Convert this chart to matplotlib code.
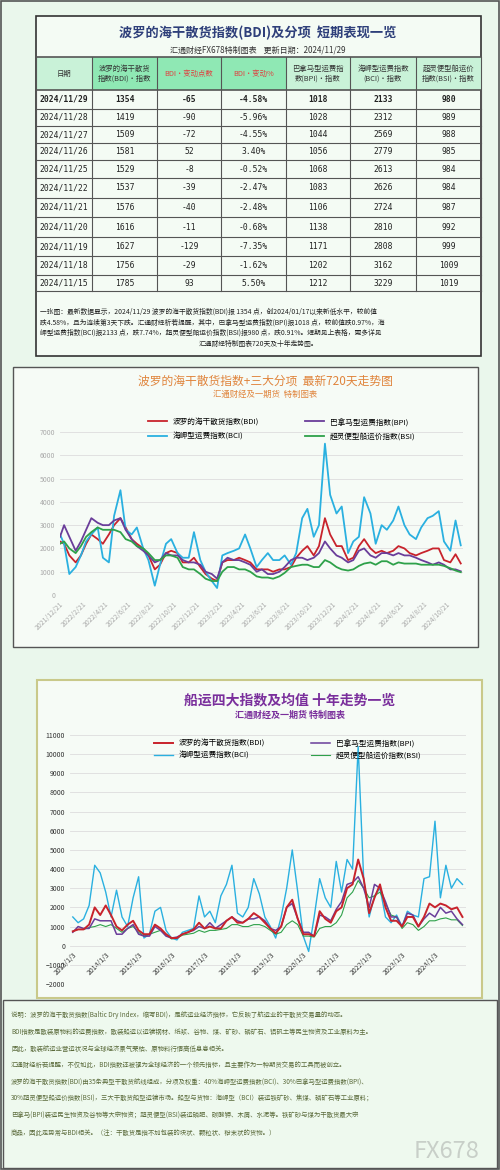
import matplotlib
matplotlib.use("Agg")
import matplotlib.pyplot as plt
import pandas as pd
from matplotlib.patches import Rectangle

plt.rcParams['font.family'] = ['Noto Sans CJK SC', 'DejaVu Sans']

# ---------------- table data ----------------
tbl_dates = ["2024/11/29", "2024/11/28", "2024/11/27", "2024/11/26", "2024/11/25", "2024/11/22",
             "2024/11/21", "2024/11/20", "2024/11/19", "2024/11/18", "2024/11/15"]
tbl_bdi = [1354, 1419, 1509, 1581, 1529, 1537, 1576, 1616, 1627, 1756, 1785]
tbl_chg = [-65, -90, -72, 52, -8, -39, -40, -11, -129, -29, 93]
tbl_pct = ["-4.58%", "-5.96%", "-4.55%", "3.40%", "-0.52%", "-2.47%", "-2.48%", "-0.68%", "-7.35%", "-1.62%", "5.50%"]
tbl_bpi = [1018, 1028, 1044, 1056, 1068, 1083, 1106, 1138, 1171, 1202, 1212]
tbl_bci = [2133, 2312, 2569, 2779, 2613, 2626, 2724, 2810, 2808, 3162, 3229]
tbl_bsi = [980, 989, 988, 985, 984, 984, 987, 992, 999, 1009, 1019]
tbl_headers = ["日期", "波罗的海干散货\n指数(BDI)·指数", "BDI·变动点数", "BDI·变动%",
               "巴拿马型运费指\n数(BPI)·指数", "海岬型运费指数\n(BCI)·指数", "超灵便型船运价\n指数(BSI)·指数"]

# ---------------- 720-day chart data (semi-monthly) ----------------
c1_bci = [2600,
          2200, 900, 1200, 1700, 2300, 2600, 2900, 1600, 1400, 3400, 4500, 2800,
          2600, 2900, 2000, 1500, 400, 1300, 2200, 2400, 1800, 1600, 1600, 2700,
          1500, 1000, 600, 300, 1700, 1800, 1900, 2000, 2600, 2000, 1200, 1500,
          1800, 1500, 1500, 1700, 1300, 1800, 3300, 3700, 2500, 3000, 6500, 4300,
          3500, 3800, 1800, 2300, 2500, 4200, 3500, 2200, 3000, 2800, 3200, 3800,
          3000, 2600, 2400, 2900, 3300, 3400, 3600, 2300, 1900, 3200,
          2133]
c1_bdi = [2300,
          2200, 1700, 1400, 1700, 2200, 2600, 2400, 2200, 2600, 3000, 3300, 2900,
          2400, 2200, 2000, 1700, 1100, 1300, 1800, 1900, 1800, 1400, 1400, 1600,
          1200, 900, 700, 600, 1400, 1500, 1500, 1600, 1500, 1400, 1100, 1100,
          1100, 1000, 1100, 1100, 1200, 1600, 1900, 2100, 1700, 2100, 3300, 2600,
          2100, 2100, 1500, 1600, 2100, 2400, 2000, 1800, 1900, 1800, 1900, 2100,
          2000, 1800, 1700, 1800, 1900, 2000, 2000, 1500, 1400, 1750,
          1354]
c1_bpi = [2500,
          3000, 2500, 1900, 2300, 2800, 3300, 3100, 3000, 3000, 3200, 3300, 2800,
          2400, 2100, 1900, 1700, 1400, 1500, 1800, 1700, 1700, 1500, 1400, 1400,
          1300, 1000, 900, 700, 1400, 1600, 1500, 1500, 1400, 1300, 1000, 1100,
          900, 900, 1000, 1200, 1500, 1600, 1600, 1500, 1600, 1800, 2300, 2000,
          1700, 1600, 1400, 1500, 1900, 2000, 1700, 1600, 1800, 1800, 1700, 1800,
          1700, 1700, 1600, 1500, 1400, 1300, 1400, 1300, 1100, 1100,
          1018]
c1_bsi = [2200,
          2300, 2000, 1800, 2100, 2500, 2700, 2900, 2800, 2800, 2800, 2700, 2400,
          2300, 2100, 2000, 1800, 1500, 1500, 1700, 1700, 1600, 1200, 1100, 1100,
          900, 700, 600, 600, 1000, 1200, 1200, 1100, 1100, 1000, 800, 750,
          750, 700, 800, 950, 1200, 1250, 1300, 1300, 1200, 1200, 1500, 1400,
          1200, 1100, 1050, 1100, 1250, 1350, 1400, 1300, 1450, 1450, 1300, 1400,
          1350, 1350, 1350, 1300, 1300, 1300, 1300, 1250, 1150, 1050,
          980]
c1_ticks = ["2021/12/21", "2022/2/21", "2022/4/21", "2022/6/21", "2022/8/21", "2022/10/21",
            "2022/12/21", "2023/2/21", "2023/4/21", "2023/6/21", "2023/8/21", "2023/10/21",
            "2023/12/21", "2024/2/21", "2024/4/21", "2024/6/21", "2024/8/21", "2024/10/21"]

# ---------------- ten-year chart data (every 2 months) ----------------
c2_bci = [1500, 1200, 1400, 2100, 4200, 3800,
          2800, 1500, 2900, 1500, 1000, 2500,
          3600, 400, 600, 1800, 2000, 800,
          400, 300, 700, 800, 900, 2600,
          1500, 1800, 1200, 2600, 3200, 4200,
          1700, 1500, 2000, 3500, 2700, 1500,
          1000, 400, 1500, 3000, 5000, 2800,
          500, -300, 1500, 3500, 2500, 2000,
          4400, 2800, 4500, 4000, 10400, 3500,
          1500, 2600, 3000, 1500, 1200, 1600,
          1000, 1800, 1600, 1500, 3500, 3600,
          6500, 2500, 4200, 3000, 3500, 3200]
c2_bdi = [750, 850, 850, 1100, 2000, 1600,
          2100, 1600, 1000, 800, 1100, 1300,
          800, 600, 600, 1100, 900, 600,
          400, 400, 600, 700, 850, 1200,
          900, 1000, 900, 900, 1300, 1500,
          1200, 1200, 1400, 1700, 1500, 1200,
          900, 650, 1000, 2000, 2400, 1400,
          600, 600, 500, 1800, 1400, 1200,
          1800, 2000, 3000, 3200, 4500, 3500,
          1700, 2500, 3200, 2000, 1300, 1300,
          1000, 1500, 1500, 1000, 1500, 2200,
          2000, 2200, 2100, 1900, 2000, 1500]
c2_bpi = [700, 1000, 900, 900, 1400, 1300,
          1300, 1300, 600, 600, 900, 1100,
          600, 500, 500, 1000, 800, 500,
          400, 450, 600, 700, 800, 1000,
          900, 1200, 900, 1100, 1300, 1500,
          1300, 1200, 1400, 1400, 1500, 1300,
          900, 800, 1000, 2000, 2200, 1400,
          700, 700, 500, 1600, 1500, 1300,
          1900, 2300, 3200, 3300, 3600, 3000,
          2000, 3200, 3000, 2300, 1500, 1500,
          1000, 1700, 1600, 1000, 1400, 1700,
          1500, 2000, 1700, 1800, 1400, 1100]
c2_bsi = [750, 850, 850, 950, 1000, 1100,
          1000, 1100, 900, 700, 900, 1000,
          700, 500, 600, 700, 800, 600,
          350, 400, 550, 600, 650, 800,
          700, 800, 800, 850, 900, 1100,
          1100, 1000, 1000, 1100, 1100, 1000,
          800, 600, 700, 1100, 1300, 1100,
          500, 500, 450, 900, 1000, 1000,
          1200, 1600, 2500, 2800, 3400, 3000,
          2500, 2600, 2800, 2200, 1600, 1500,
          900, 1200, 1100, 800, 1000, 1300,
          1300, 1400, 1450, 1350, 1350, 1050]
c2_ticks = ["2013/1/3", "2014/1/3", "2015/1/3", "2016/1/3", "2017/1/3", "2018/1/3",
            "2019/1/3", "2020/1/3", "2021/1/3", "2022/1/3", "2023/1/3", "2024/1/3"]

names = ["波罗的海干散货指数(BDI)", "巴拿马型运费指数(BPI)", "海岬型运费指数(BCI)", "超灵便型船运价指数(BSI)"]

W, H = 500, 1170
BG = "#eaf7ec"
fig = plt.figure(figsize=(W / 100, H / 100), dpi=100, facecolor=BG)
bg = fig.add_axes([0, 0, 1, 1], zorder=0)
bg.set_xlim(0, W); bg.set_ylim(H, 0); bg.axis("off")

def pax(x0, y0, x1, y1, **kw):
    return fig.add_axes([x0 / W, 1 - y1 / H, (x1 - x0) / W, (y1 - y0) / H], **kw)

bg.add_patch(Rectangle((1, 1), W - 2, H - 2, fill=False, ec="#555555", lw=1.2))

# ---------------- table ----------------
bg.add_patch(Rectangle((36, 16), 445, 340, fc="#f4fbf4", ec="#333333", lw=1.2))
bg.text(258, 33, "波罗的海干散货指数(BDI)及分项  短期表现一览", ha="center", va="center",
        fontsize=9.5, fontweight="bold", color="#2e3f7a")
bg.text(258, 50, "汇通财经FX678特制图表    更新日期：2024/11/29", ha="center", va="center",
        fontsize=5.8, color="#333333")
cols = [36, 92, 157, 221, 286, 350, 416, 481]
rows = [57, 90, 109, 126, 143, 160, 178, 198, 217, 237, 256, 275, 291]
for i in range(7):
    fc = "#8fe8b4" if i in (1, 2, 3) else "#c9f2d8"
    bg.add_patch(Rectangle((cols[i], rows[0]), cols[i + 1] - cols[i], rows[1] - rows[0], fc=fc, ec="none"))
    color = "#e04040" if i in (2, 3) else "#333333"
    bg.text((cols[i] + cols[i + 1]) / 2, (rows[0] + rows[1]) / 2, tbl_headers[i], ha="center", va="center",
            fontsize=5.3, color=color, linespacing=1.3)
for y in rows:
    bg.plot([36, 481], [y, y], color="#555555", lw=0.8 if y not in (57, 90) else 1.2)
for x in cols:
    bg.plot([x, x], [57, 291], color="#555555", lw=0.8)
for r in range(11):
    yc = (rows[r + 1] + rows[r + 2]) / 2
    vals = [tbl_dates[r], tbl_bdi[r], tbl_chg[r], tbl_pct[r], tbl_bpi[r], tbl_bci[r], tbl_bsi[r]]
    for i, v in enumerate(vals):
        bg.text((cols[i] + cols[i + 1]) / 2, yc, str(v), ha="center", va="center",
                fontsize=5.8, color="#222222", fontweight="bold" if r == 0 else "normal",
                family=["DejaVu Sans Mono", "DejaVu Sans"])
note = ["一张图：最新数据显示，2024/11/29 波罗的海干散货指数(BDI)报 1354 点，创2024/01/17以来新低水平，较前值",
        "跌4.58%，且为连续第3天下跌。汇通财经析若提醒，其中，巴拿马型运费指数(BPI)报1018 点，较前值跌0.97%，海",
        "岬型运费指数(BCI)报2133 点，跌7.74%，超灵便型船运价指数(BSI)报980 点，跌0.91%。短期见上表格，更多详见"]
for k, t in enumerate(note):
    bg.text(40, 312 + k * 10.5, t, ha="left", va="center", fontsize=4.9, color="#222222")
bg.text(258, 343.5, "汇通财经特制图表720天及十年走势图。", ha="center", va="center", fontsize=4.9, color="#222222")

# ---------------- chart 1 ----------------
bg.add_patch(Rectangle((13, 367), 465, 280, fc="#f6fbf6", ec="#555555", lw=1))
bg.text(265, 381, "波罗的海干散货指数+三大分项  最新720天走势图", ha="center", va="center",
        fontsize=8.5, color="#e0843c")
bg.text(265, 394, "汇通财经及一期货  特制图表", ha="center", va="center", fontsize=6, color="#e0843c")

d1 = [pd.Timestamp("2021-12-21")] + list(pd.date_range("2022-01-01", "2024-11-15", freq="SMS")) + [pd.Timestamp("2024-11-29")]
ax1 = pax(60, 432, 463, 595)
ax1.set_facecolor("none")
series1 = [(c1_bdi, "#c8232c", 0), (c1_bci, "#2ab0e0", 2), (c1_bpi, "#6a3d9a", 1), (c1_bsi, "#2ea14a", 3)]
handles = {}
for vals, col, ni in series1:
    ln, = ax1.plot(d1, vals, color=col, lw=1.3, label=names[ni])
    handles[ni] = ln
ax1.set_ylim(0, 7000)
ax1.set_xlim(pd.Timestamp("2021-12-21"), pd.Timestamp("2024-12-05"))
ax1.set_yticks(range(0, 7001, 1000))
ax1.grid(axis="y", color="#dddddd", lw=0.6)
t1 = pd.to_datetime([s.replace("/", "-") for s in c1_ticks])
ax1.set_xticks(t1)
ax1.set_xticklabels(c1_ticks, rotation=45, ha="right", rotation_mode="anchor")
ax1.tick_params(labelsize=5, colors="#aaaaaa", length=0)
for s in ax1.spines.values():
    s.set_visible(False)
ax1.legend([handles[0], handles[2], handles[1], handles[3]],
           [names[0], names[2], names[1], names[3]], ncol=2, loc="upper center",
           bbox_to_anchor=(0.55, 1.13), frameon=False, fontsize=5.5, columnspacing=6, handlelength=2.5,
           labelspacing=0.8)

# ---------------- chart 2 ----------------
bg.add_patch(Rectangle((37, 680), 445, 318, fc="#f6fbf6", ec="#c9c98a", lw=1.5))
bg.text(290, 700, "船运四大指数及均值 十年走势一览", ha="center", va="center",
        fontsize=10, fontweight="bold", color="#7a2f9c")
bg.text(290, 715, "汇通财经及一期货 特制图表", ha="center", va="center", fontsize=6.5,
        fontweight="bold", color="#7a2f9c")
d2 = pd.date_range("2013-01-01", periods=72, freq="2MS")
ax2 = pax(70, 735, 466, 984)
ax2.set_facecolor("none")
ax2.spines["bottom"].set_position(("data", 0))
series2 = [(c2_bci, "#2ab0e0", 2, 1.0), (c2_bsi, "#2ea14a", 3, 0.8), (c2_bpi, "#6a3d9a", 1, 1.1), (c2_bdi, "#c8232c", 0, 1.4)]
h2 = {}
for vals, col, ni, lw in series2:
    ln, = ax2.plot(d2, vals, color=col, lw=lw, label=names[ni])
    h2[ni] = ln
ax2.set_ylim(-2000, 11000)
ax2.set_xlim(pd.Timestamp("2012-12-01"), pd.Timestamp("2024-12-10"))
ax2.set_yticks(range(-2000, 11001, 1000))
ax2.grid(axis="y", color="#dddddd", lw=0.6)
t2 = pd.to_datetime([s.replace("/", "-") for s in c2_ticks])
ax2.set_xticks(t2)
ax2.set_xticklabels(c2_ticks, rotation=45, ha="right", rotation_mode="anchor")
ax2.tick_params(labelsize=5, colors="#333333", length=0)
for s in ax2.spines.values():
    s.set_visible(False)
ax2.legend([h2[0], h2[2], h2[1], h2[3]], [names[0], names[2], names[1], names[3]], ncol=2,
           loc="upper center", bbox_to_anchor=(0.55, 1.01), frameon=False, fontsize=5.5,
           columnspacing=6, handlelength=2.5)

# ---------------- bottom text ----------------
bg.add_patch(Rectangle((3, 1000), 494, 168, fc="#eef9ee", ec="#555555", lw=1))
lines = ["说明：波罗的海干散货指数(Baltic Dry Index，缩写BDI)，是航运业经济指标，它反映了航运业的干散货交易量的动态。",
         "BDI指数是散装原物料的运费指数，散装船运以运输钢材、纸浆、谷物、煤、矿砂、磷矿石、铝矾土等民生物资及工业原料为主。",
         "因此，散装航运业营运状况与全球经济景气荣枯、原物料行情高低息息相关。",
         "汇通财经析若提醒，不仅如此，BDI指数还被视为全球经济的一个领先指标，且主要作为一种期货交易的工具而被创立。",
         "波罗的海干散货指数(BDI)由35条典型干散货航线组成，分项及权重：40%海岬型运费指数(BCI)、30%巴拿马型运费指数(BPI)、",
         "30%超灵便型船运价指数(BSI)，三大干散货船型运输市场。船型与货物：海岬型（BCI）装运铁矿砂、焦煤、磷矿石等工业原料；",
         "巴拿马(BPI)装运民生物资及谷物等大宗物资；超灵便型(BSI)装运磷肥、碳酸钾、木屑、水泥等。铁矿砂与煤为干散货最大宗",
         "商品，因此走势常与BDI相关。（注：干散货是指不加包装的块状、颗粒状、粉末状的货物。）"]
for k, t in enumerate(lines):
    bg.text(11, 1015 + k * 16.8, t, ha="left", va="center", fontsize=4.6, color="#5a6a3a")
bg.text(480, 1152, "FX678", ha="right", va="center", fontsize=17, color="#c8cfc8")

fig.savefig("out.png", dpi=100, facecolor=BG)
